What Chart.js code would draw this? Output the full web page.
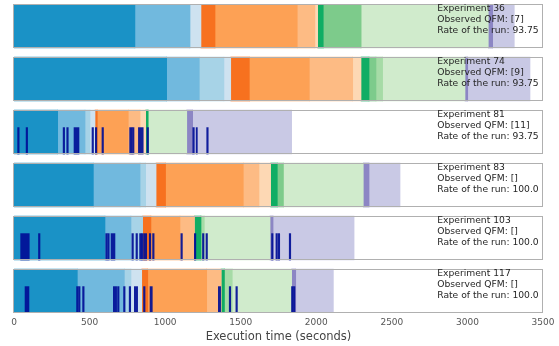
<!DOCTYPE html>
<html><head><meta charset="utf-8">
<script src="https://cdn.jsdelivr.net/npm/chart.js@4/dist/chart.umd.min.js"></script>
<style>html,body{margin:0;padding:0;background:#fff;}#wrap{width:559px;height:346px;}</style>
</head><body><div id="wrap"><canvas id="c" width="559" height="346"></canvas></div>
<script>
// ---- data ----
const experimentIds = [36, 74, 81, 83, 103, 117];
const observedQFM = ['[7]', '[9]', '[11]', '[]', '[]', '[]'];
const runRates = ['93.75', '93.75', '93.75', '100.0', '100.0', '100.0'];
const xTickValues = [0, 500, 1000, 1500, 2000, 2500, 3000, 3500];

// duration (seconds) of each of the 14 phases, per experiment
const phases36  = [800, 364, 0, 73, 93, 544, 117, 18, 37, 250, 0, 842, 29, 143];
const phases74  = [1010, 216, 163, 45, 123, 397, 287, 55, 53, 46, 44, 545, 18, 412];
const phases81  = [289, 181, 33, 33, 15, 205, 78, 37, 16, 0, 0, 256, 39, 655];
const phases83  = [525, 309, 37, 69, 63, 514, 104, 77, 44, 40, 0, 529, 38, 205];
const phases103 = [602, 172, 77, 0, 55, 192, 95, 0, 44, 0, 22, 435, 20, 536];
const phases117 = [419, 311, 44, 71, 40, 390, 95, 0, 22, 0, 52, 393, 27, 249];

// event intervals [start, end] in seconds
const events36  = [];
const events74  = [];
const events81  = [[24,34],[80,90],[325,335],[349,359],[397,430],[516,526],[538,548],[582,592],[765,773],[776,784],[786,794],[823,855],[880,890],[1183,1193],[1205,1213],[1275,1285]];
const events83  = [];
const events103 = [[44,101],[162,172],[607,617],[620,630],[642,668],[780,790],[807,817],[831,841],[842,852],[857,878],[895,905],[917,927],[1104,1114],[1193,1203],[1247,1257],[1270,1280],[1704,1714],[1733,1743],[1748,1758],[1821,1831]];
const events117 = [[73,99],[414,424],[427,437],[454,464],[657,679],[685,695],[725,735],[762,772],[796,818],[857,867],[900,915],[1352,1367],[1424,1434],[1468,1478],[1836,1846],[1849,1859]];

// ---- styles ----
const phaseColors = ['#1a92c6','#71b9de','#a7d3e7','#cee2f0','#f7711f','#fda155','#fdbb84','#fdd8b4','#10ad64','#7dcb8b','#a6dba6','#d0ebcc','#8c86c4','#c9c9e5'];
const eventColor = 'rgba(0,14,150,0.92)';
const FONT = 'DejaVu Sans';
const HALF = 0.415;      // half panel height in row units
const EVT_SHIFT = 0.166; // events occupy lower part of panel

const allPhases = [phases36, phases74, phases81, phases83, phases103, phases117];
const allEvents = [events36, events74, events81, events83, events103, events117];

const datasets = [];
const evData = [];
allEvents.forEach((evs, r) => evs.forEach(e => evData.push({x: e, y: r})));
datasets.push({label: 'events', data: evData, yAxisID: 'yl', backgroundColor: eventColor,
  borderWidth: 0, barThickness: 26.4, grouped: false, order: 0});
phaseColors.forEach((col, p) => {
  const data = allPhases.map((ph, r) => {
    let s = 0; for (let k = 0; k < p; k++) s += ph[k];
    return {x: [s, s + ph[p]], y: r};
  });
  datasets.push({label: 'phase ' + p, data, yAxisID: 'y', backgroundColor: col,
    borderWidth: 0, barThickness: 44, grouped: false, order: 1});
});

const panelPlugin = {
  id: 'panels',
  afterDatasetsDraw(chart) {
    const {ctx, scales: {x, y}} = chart;
    ctx.save();
    ctx.strokeStyle = '#b0b0b0';
    ctx.lineWidth = 1;
    experimentIds.forEach((id, r) => {
      const t = Math.round(y.getPixelForValue(r - HALF)) + 0.5;
      const b = Math.round(y.getPixelForValue(r + HALF)) - 0.5;
      ctx.strokeRect(Math.round(x.left) - 0.5, t, Math.round(x.right) - Math.round(x.left), b - t);
      ctx.fillStyle = '#262626';
      ctx.font = '9.2px "' + FONT + '"';
      ctx.textBaseline = 'middle';
      ctx.textAlign = 'left';
      const tx = x.getPixelForValue(2800);
      const lines = ['Experiment ' + id, 'Observed QFM: ' + observedQFM[r], 'Rate of the run: ' + runRates[r]];
      lines.forEach((ln, k) => ctx.fillText(ln, tx, t + 4.5 + k * 10.8));
    });
    ctx.restore();
  }
};

new Chart(document.getElementById('c'), {
  type: 'bar',
  data: {datasets},
  options: {
    indexAxis: 'y',
    responsive: false,
    animation: false,
    layout: {padding: {left: 14, right: 16, top: 4, bottom: 0}},
    plugins: {legend: {display: false}, tooltip: {enabled: false}},
    scales: {
      x: {
        type: 'linear', min: 0, max: 3500,
        afterBuildTicks: s => { s.ticks = xTickValues.map(v => ({value: v})); },
        afterFit: s => { s.height = 33; },
        grid: {display: false, drawTicks: false},
        border: {display: false},
        ticks: {font: {family: FONT, size: 9}, color: '#555', padding: 4, maxRotation: 0, callback: v => String(v)},
        title: {display: true, text: 'Execution time (seconds)', font: {family: FONT, size: 11.5}, color: '#444', padding: {top: 0, bottom: 2}}
      },
      y: {type: 'linear', offset: false, min: -HALF, max: experimentIds.length - 1 + HALF, reverse: true, display: false},
      yl: {type: 'linear', offset: false, min: -HALF - EVT_SHIFT, max: experimentIds.length - 1 + HALF - EVT_SHIFT, reverse: true, display: false}
    }
  },
  plugins: [panelPlugin]
});
</script></body></html>
